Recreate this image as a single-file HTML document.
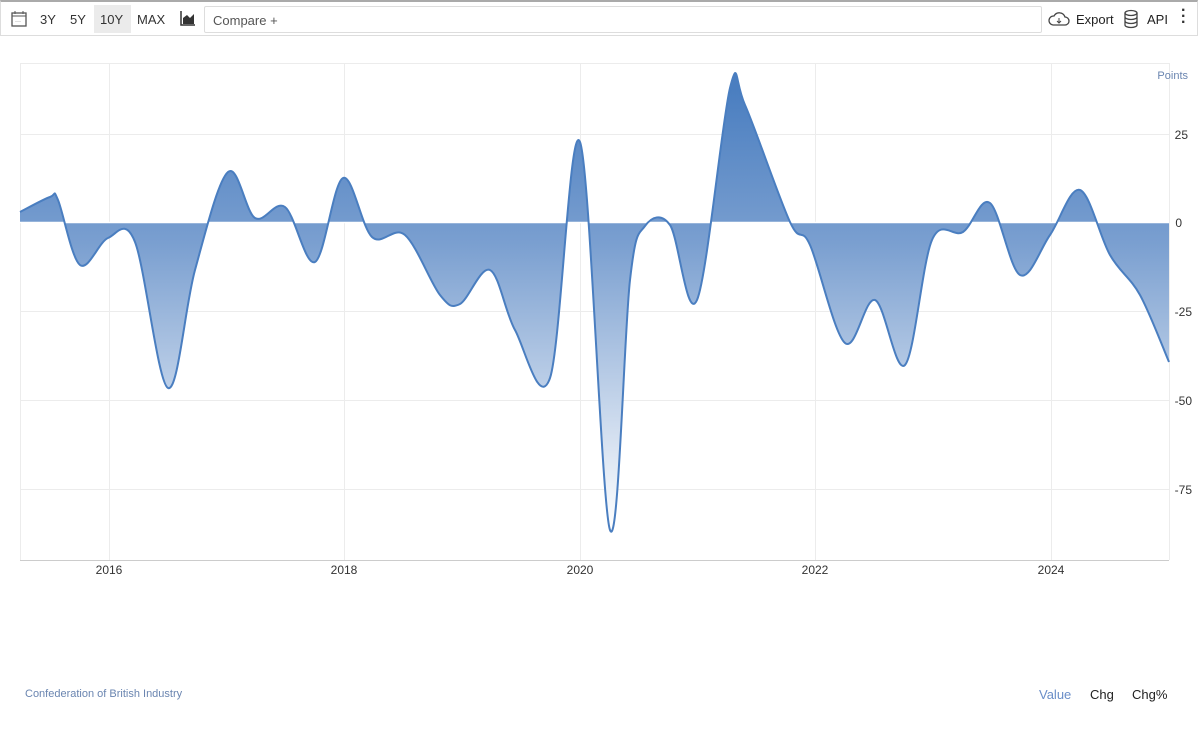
<!DOCTYPE html>
<html><head><meta charset="utf-8"><style>
body{margin:0;width:1200px;height:742px;background:#fff;font-family:"Liberation Sans",sans-serif;overflow:hidden;position:relative}
.tb{position:absolute;left:0;top:0;width:1198px;height:36px;border:1px solid #ddd;border-top:2px solid #aaa;box-sizing:border-box}
.t{position:absolute;top:10px;font-size:13px;color:#333}
.cmp{position:absolute;left:203px;top:4px;width:838px;height:27px;border:1px solid #ddd;border-radius:2px;box-sizing:border-box;font-size:13px;color:#555;padding:6px 8px}
svg text{font-family:"Liberation Sans",sans-serif}
</style></head><body>
<div class="tb">
<svg style="position:absolute;left:10px;top:8px" width="16" height="17"><rect x="1" y="3" width="14" height="13" fill="none" stroke="#555" stroke-width="1.3"/><line x1="1" y1="6" x2="15" y2="6" stroke="#555"/><line x1="4" y1="1" x2="4" y2="4" stroke="#555"/><line x1="12" y1="1" x2="12" y2="4" stroke="#555"/><text x="4" y="13" font-size="6" fill="#555">···</text></svg>
<span class="t" style="left:39px">3Y</span><span class="t" style="left:69px">5Y</span>
<div style="position:absolute;left:93px;top:3px;width:37px;height:28px;background:#ebebeb"></div>
<span class="t" style="left:99px">10Y</span><span class="t" style="left:136px">MAX</span>
<svg style="position:absolute;left:179px;top:9px" width="16" height="15"><path d="M1 0V14H15" fill="none" stroke="#333" stroke-width="1.5"/><path d="M3 13V7L7 4L10 7L14 3V13Z" fill="#333"/></svg>
<div class="cmp">Compare +</div>
<svg style="position:absolute;left:1047px;top:9px" width="22" height="16"><path d="M5 14H17A4 4 0 0 0 17 6A6 6 0 0 0 6 5A4.5 4.5 0 0 0 5 14Z" fill="none" stroke="#444" stroke-width="1.3"/><path d="M11 7V12M9 10L11 12L13 10" stroke="#444" fill="none"/></svg>
<span class="t" style="left:1075px;color:#222">Export</span>
<svg style="position:absolute;left:1122px;top:7px" width="16" height="20"><ellipse cx="8" cy="4" rx="6" ry="2.5" fill="none" stroke="#444" stroke-width="1.3"/><path d="M2 4V16A6 2.5 0 0 0 14 16V4M2 8A6 2.5 0 0 0 14 8M2 12A6 2.5 0 0 0 14 12" fill="none" stroke="#444" stroke-width="1.3"/></svg>
<span class="t" style="left:1146px;color:#222">API</span>
<span class="t" style="left:1180px;font-weight:bold;top:6px;font-size:16px;line-height:6px">·<br>·<br>·</span>
</div>
<svg width="1200" height="742" style="position:absolute;left:0;top:0">
<defs><linearGradient id="g" gradientUnits="userSpaceOnUse" x1="0" y1="88" x2="0" y2="530"><stop offset="0" stop-color="#4a7ec0"/><stop offset="0.35" stop-color="#7a9fd0"/><stop offset="1" stop-color="#ffffff"/></linearGradient></defs>
<g stroke="#ececec" stroke-width="1">
<line x1="20" y1="63.5" x2="1169" y2="63.5"/><line x1="20" y1="134.5" x2="1169" y2="134.5"/><line x1="20" y1="311.5" x2="1169" y2="311.5"/><line x1="20" y1="400.5" x2="1169" y2="400.5"/><line x1="20" y1="489.5" x2="1169" y2="489.5"/>
<line x1="109.5" y1="63" x2="109.5" y2="560"/><line x1="344.5" y1="63" x2="344.5" y2="560"/><line x1="580.5" y1="63" x2="580.5" y2="560"/><line x1="815.5" y1="63" x2="815.5" y2="560"/><line x1="1051.5" y1="63" x2="1051.5" y2="560"/>
<line x1="20.5" y1="63" x2="20.5" y2="560"/><line x1="1169.5" y1="63" x2="1169.5" y2="560"/>
</g>
<path id="area" fill="url(#g)" stroke="none"/>
<line x1="20" y1="222.5" x2="1169" y2="222.5" stroke="#fff" stroke-width="1.5"/>
<path id="ln" fill="none" stroke="#4a7ec0" stroke-width="2"/>
<line x1="20" y1="560.5" x2="1169" y2="560.5" stroke="#ccc"/>
<g font-size="12" fill="#333" text-anchor="middle">
<text x="109" y="574">2016</text><text x="344" y="574">2018</text><text x="580" y="574">2020</text><text x="815" y="574">2022</text><text x="1051" y="574">2024</text></g>
<g font-size="12" fill="#333" text-anchor="end">
<text x="1188" y="139">25</text><text x="1182" y="227">0</text><text x="1192" y="316">-25</text><text x="1192" y="405">-50</text><text x="1192" y="494">-75</text></g>
<text x="1188" y="79" font-size="11" fill="#6a85b0" text-anchor="end">Points</text>
<text x="25" y="697" font-size="11" fill="#6a85b0">Confederation of British Industry</text>
<text x="1039" y="699" font-size="13" fill="#6a8ec8">Value</text>
<text x="1090" y="699" font-size="13" fill="#222">Chg</text>
<text x="1132" y="699" font-size="13" fill="#222">Chg%</text>
</svg>
<script>
var p=[[20,212],[50,197],[58,200],[80,265],[108,238],[135,242],[168,388],[195,270],[228,172],[255,218],[285,207],[315,262],[343,178],[372,237],[405,235],[440,295],[460,304],[490,270],[515,330],[550,378],[580,142],[610,530],[630,280],[645,226],[670,225],[697,300],[730,88],[745,105],[790,222],[810,245],[845,343],[875,300],[905,365],[932,240],[963,232],[990,203],[1020,275],[1050,235],[1080,190],[1110,255],[1140,295],[1169,362]];
var d="M"+p[0][0]+" "+p[0][1];
for(var i=0;i<p.length-1;i++){var a=p[Math.max(i-1,0)],b=p[i],c=p[i+1],e=p[Math.min(i+2,p.length-1)];
d+=" C"+(b[0]+(c[0]-a[0])/6)+" "+(b[1]+(c[1]-a[1])/6)+" "+(c[0]-(e[0]-b[0])/6)+" "+(c[1]-(e[1]-b[1])/6)+" "+c[0]+" "+c[1];}
document.getElementById("ln").setAttribute("d",d);
document.getElementById("area").setAttribute("d",d+" L1169 222 L20 222Z");
</script>
</body></html>
